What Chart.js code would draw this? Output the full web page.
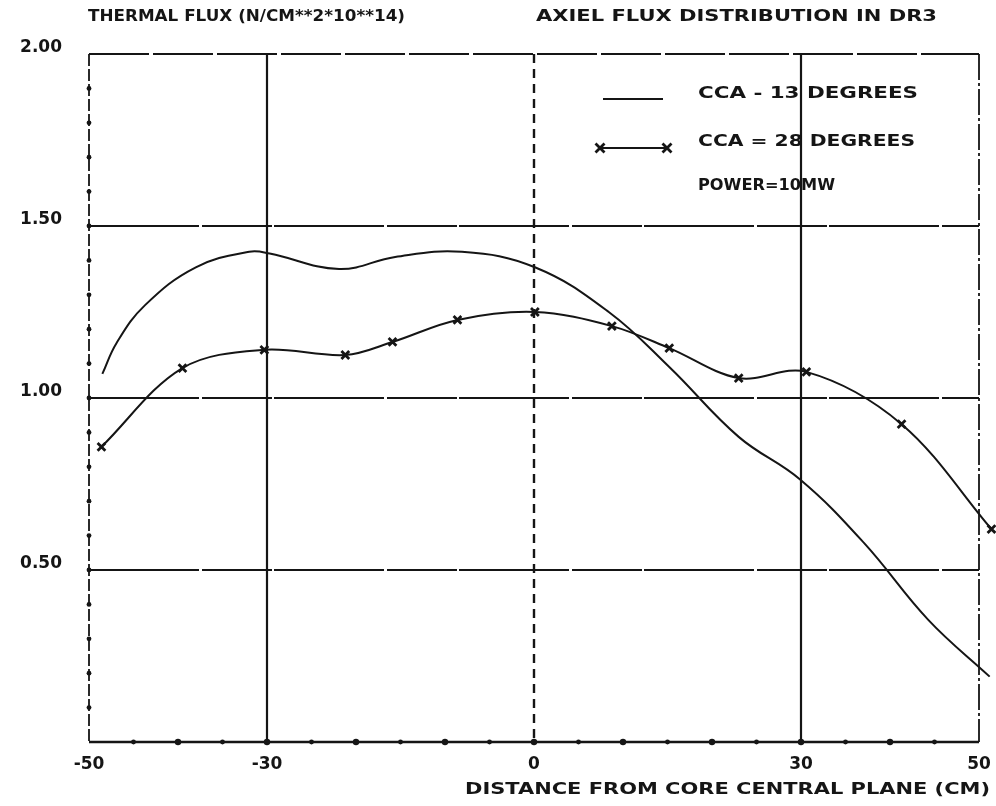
<!DOCTYPE html>
<html lang="en">
<head>
  <meta charset="UTF-8">
  <title>Axiel flux distribution in DR3</title>
  <script src="https://cdn.jsdelivr.net/npm/chart.js"></script>
  <style>
    html, body { margin: 0; padding: 0; background: #fff; }
    #graficoFluxo { display: block; }
  </style>
</head>
<body>
  <canvas id="graficoFluxo" width="996" height="806"></canvas>

  <script>
    // CCA = 13 degrees (plain curve)
    const cca13X = [-48.5, -46.9, -43.7, -38.0, -32.0, -29.7, -21.9, -15.6, -8.1, 0.1, 8.4, 15.2, 23.0, 29.9, 37.1, 44.3, 51.2];
    const cca13Y = [1.07, 1.16, 1.27, 1.38, 1.425, 1.42, 1.375, 1.41, 1.425, 1.38, 1.25, 1.09, 0.887, 0.763, 0.578, 0.355, 0.19];

    // CCA = 28 degrees (measured points, x markers)
    const cca28X = [-48.6, -39.5, -30.3, -21.2, -15.9, -8.6, 0.1, 8.75, 15.2, 23.0, 30.6, 41.3, 51.4];
    const cca28Y = [0.858, 1.087, 1.14, 1.125, 1.163, 1.227, 1.25, 1.209, 1.145, 1.058, 1.076, 0.924, 0.619];

    // axis labels and grid
    const xTickLabels = [-50, -30, 0, 30, 50];
    const yTickLabels = [0.5, 1.0, 1.5, 2.0];
    const gridY = [0.5, 1.0, 1.5];
    const gridXSolid = [-30, 30];
    const gridXDashed = [0];

    const INK = '#151515';
    const FAMILY = '"DejaVu Sans", sans-serif';

    // plotter style text: stretched to the width it has in the original
    function fitText(ctx, text, x, y, width, align) {
      ctx.save();
      ctx.font = 'bold 16px ' + FAMILY;
      ctx.fillStyle = INK;
      ctx.textBaseline = 'middle';
      ctx.textAlign = 'left';
      const w = ctx.measureText(text).width;
      const left = align === 'right' ? x - width : x;
      ctx.translate(left, y);
      ctx.scale(width / w, 1);
      ctx.fillText(text, 0, 0);
      ctx.restore();
    }

    function cross(ctx, cx, cy, r) {
      ctx.beginPath();
      ctx.moveTo(cx - r, cy - r); ctx.lineTo(cx + r, cy + r);
      ctx.moveTo(cx - r, cy + r); ctx.lineTo(cx + r, cy - r);
      ctx.stroke();
    }

    // frame, grid and tick dots drawn like the old pen plotter
    const plotterFrame = {
      id: 'plotterFrame',
      beforeDatasetsDraw(chart) {
        const { ctx, chartArea: a, scales: { x, y } } = chart;
        ctx.save();
        ctx.strokeStyle = INK;
        ctx.fillStyle = INK;
        const seg = (x1, y1, x2, y2, w, dash) => {
          ctx.lineWidth = w;
          ctx.setLineDash(dash);
          ctx.beginPath();
          ctx.moveTo(x1, y1);
          ctx.lineTo(x2, y2);
          ctx.stroke();
        };

        gridY.forEach(v => {
          const p = y.getPixelForValue(v);
          seg(a.left, p, a.right, p, 2, [110, 3, 70, 2]);
        });
        seg(a.left, a.top, a.right, a.top, 1.8, [60, 4]);

        gridXSolid.forEach(v => {
          const p = x.getPixelForValue(v);
          seg(p, a.top, p, a.bottom, 2.2, []);
        });
        gridXDashed.forEach(v => {
          const p = x.getPixelForValue(v);
          seg(p, a.top, p, a.bottom, 2.4, [9, 6]);
        });

        seg(a.left, a.top, a.left, a.bottom, 1.8, [12, 3]);
        seg(a.right, a.top, a.right, a.bottom, 1.8, [26, 3, 3, 3]);
        seg(a.left, a.bottom, a.right, a.bottom, 2.6, []);

        ctx.setLineDash([]);
        for (let v = -45; v <= 45; v += 5) {
          const px = x.getPixelForValue(v);
          ctx.beginPath();
          ctx.arc(px, a.bottom, v % 10 === 0 ? 3.2 : 2.4, 0, Math.PI * 2);
          ctx.fill();
        }
        for (let i = 1; i < 20; i++) {
          const py = y.getPixelForValue(i / 10);
          ctx.beginPath();
          ctx.arc(a.left, py, 2.4, 0, Math.PI * 2);
          ctx.fill();
        }
        ctx.restore();
      },
      afterDraw(chart) {
        const ctx = chart.ctx;
        fitText(ctx, 'THERMAL FLUX (N/CM**2*10**14)', 88, 17, 317, 'left');
        fitText(ctx, 'AXIEL FLUX DISTRIBUTION IN DR3', 536, 17, 401, 'left');
        fitText(ctx, 'DISTANCE FROM CORE CENTRAL PLANE (CM)', 990, 790, 525, 'right');

        // legend
        ctx.save();
        ctx.strokeStyle = INK;
        ctx.lineWidth = 2;
        ctx.beginPath();
        ctx.moveTo(603, 99); ctx.lineTo(663, 99);
        ctx.moveTo(600, 148); ctx.lineTo(667, 148);
        ctx.stroke();
        ctx.lineWidth = 2.8;
        cross(ctx, 600, 148, 4.5);
        cross(ctx, 667, 148, 4.5);
        ctx.restore();
        fitText(ctx, 'CCA - 13 DEGREES', 698, 94, 220, 'left');
        fitText(ctx, 'CCA = 28 DEGREES', 698, 142, 217, 'left');
        fitText(ctx, 'POWER=10MW', 698, 186, 137, 'left');
      }
    };

    const dadosFluxo = {
      datasets: [{
        label: 'CCA - 13 DEGREES',
        data: cca13X.map((v, i) => ({ x: v, y: cca13Y[i] })),
        borderColor: INK,
        borderWidth: 2,
        pointRadius: 0,
        tension: 0.4,
        clip: false
      }, {
        label: 'CCA = 28 DEGREES',
        data: cca28X.map((v, i) => ({ x: v, y: cca28Y[i] })),
        borderColor: INK,
        borderWidth: 2,
        tension: 0.35,
        pointStyle: 'crossRot',
        pointRadius: 5.5,
        // larger hover radius so the last marker, just past x = 50, is still drawn
        pointHoverRadius: 12,
        pointBorderWidth: 2.8,
        pointBorderColor: INK,
        clip: false
      }]
    };

    const fonteTicks = { family: FAMILY, size: 17, weight: 'bold' };

    const config = {
      type: 'line',
      data: dadosFluxo,
      options: {
        responsive: false,
        animation: false,
        events: [],
        layout: { padding: { top: 54, right: 17, left: 0, bottom: 0 } },
        plugins: {
          legend: { display: false },
          tooltip: { enabled: false }
        },
        scales: {
          x: {
            type: 'linear',
            min: -50,
            max: 50,
            grid: { display: false, drawTicks: false },
            border: { display: false },
            afterBuildTicks: ax => { ax.ticks = xTickLabels.map(v => ({ value: v })); },
            afterFit: ax => { ax.height = 64; ax.paddingLeft = 0; ax.paddingRight = 0; },
            ticks: {
              color: INK,
              font: fonteTicks,
              padding: 12,
              autoSkip: false,
              maxRotation: 0,
              callback: v => String(v)
            }
          },
          y: {
            min: 0,
            max: 2,
            grid: { display: false, drawTicks: false },
            border: { display: false },
            afterBuildTicks: ax => { ax.ticks = yTickLabels.map(v => ({ value: v })); },
            afterFit: ax => { ax.width = 89; ax.paddingTop = 0; ax.paddingBottom = 0; },
            ticks: {
              color: INK,
              font: fonteTicks,
              padding: 27,
              labelOffset: -6,
              callback: v => v.toFixed(2)
            }
          }
        }
      },
      plugins: [plotterFrame]
    };

    const ctx = document.getElementById('graficoFluxo').getContext('2d');
    const graficoFluxo = new Chart(ctx, config);
  </script>
</body>
</html>
